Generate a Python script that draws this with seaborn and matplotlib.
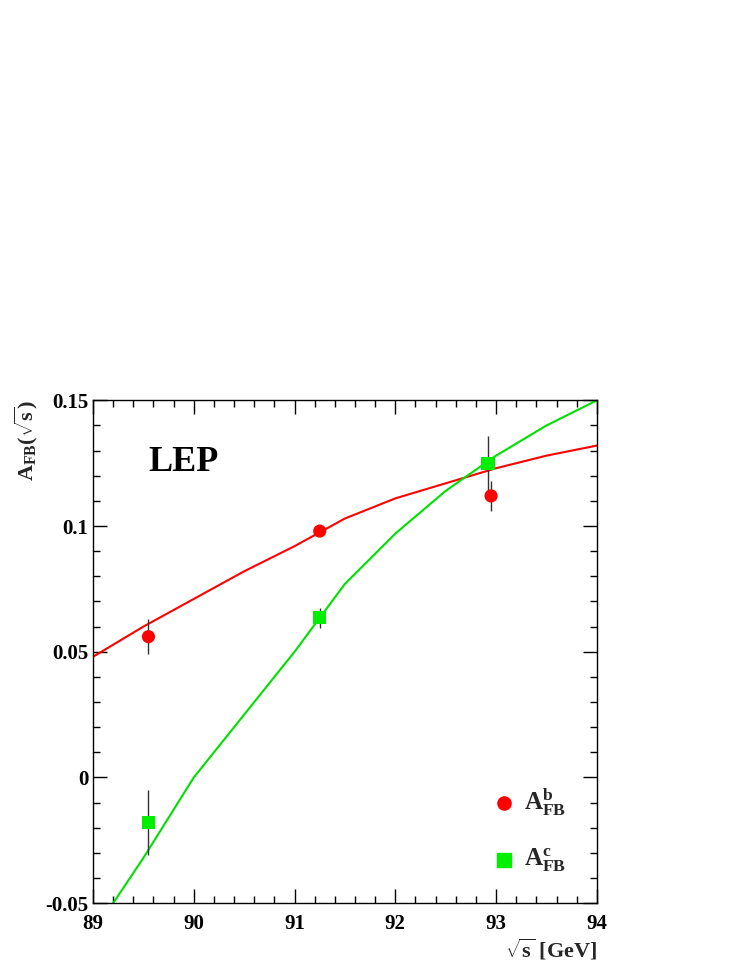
import matplotlib
matplotlib.use("Agg")
import matplotlib.pyplot as plt
import seaborn as sns
import numpy as np
from matplotlib.ticker import MultipleLocator, FixedFormatter, FixedLocator

sns.set_style("ticks")
plt.rcParams['font.family'] = ['Liberation Serif', 'DejaVu Serif']
plt.rcParams['font.weight'] = 'bold'
plt.rcParams['mathtext.fontset'] = 'custom'
plt.rcParams['mathtext.rm'] = 'Liberation Serif'
plt.rcParams['mathtext.it'] = 'Liberation Serif:italic'
plt.rcParams['mathtext.bf'] = 'Liberation Serif:bold'

curve_x = [89.0, 89.5, 90.0, 90.5, 91.0, 91.5, 92.0, 92.5, 93.0, 93.5, 94.0]
curve_b = [0.048, 0.060, 0.071, 0.082, 0.092, 0.103, 0.111, 0.117, 0.123, 0.128, 0.132]
curve_cx = [89.2, 89.5, 90.0, 90.5, 91.0, 91.5, 92.0, 92.5, 93.0, 93.5, 94.0]
curve_c = [-0.05, -0.032, 0.0, 0.025, 0.05, 0.077, 0.097, 0.114, 0.128, 0.140, 0.150]
b_x = [89.55, 91.25, 92.95]
b_y = [0.056, 0.098, 0.112]
b_err = [0.007, 0.002, 0.006]
c_x = [89.55, 91.25, 92.92]
c_y = [-0.018, 0.0635, 0.125]
c_err = [0.013, 0.004, 0.011]

fig = plt.figure(figsize=(7.47, 9.67), dpi=100)
ax = fig.add_axes([0.1245, 0.066, 0.6745, 0.52])
sns.lineplot(x=curve_x, y=curve_b, color='#ff0000', lw=1.5, ax=ax)
sns.lineplot(x=curve_cx, y=curve_c, color='#00e000', lw=1.5, ax=ax)
ax.errorbar(b_x, b_y, yerr=b_err, fmt='none', ecolor='#333333', lw=1)
ax.errorbar(c_x, c_y, yerr=c_err, fmt='none', ecolor='#333333', lw=1)
sns.scatterplot(x=b_x, y=b_y, color='#ff0000', marker='o', s=90, edgecolor='none', ax=ax, zorder=5)
sns.scatterplot(x=c_x, y=c_y, color='#00ee00', marker='s', s=90, edgecolor='none', ax=ax, zorder=5)

ax.set_xlim(89, 94)
ax.set_ylim(-0.05, 0.15)
ax.xaxis.set_major_locator(MultipleLocator(1))
ax.xaxis.set_minor_locator(MultipleLocator(0.2))
yt = [-0.05, 0, 0.05, 0.1, 0.15]
ax.yaxis.set_major_locator(FixedLocator(yt))
ax.yaxis.set_major_formatter(FixedFormatter(['-0.05', '0', '0.05', '0.1', '0.15']))
ax.yaxis.set_minor_locator(MultipleLocator(0.01))
ax.tick_params(which='both', direction='in', top=True, right=True, labelsize=15, width=1,
               colors='black')
ax.tick_params(which='major', length=10)
ax.tick_params(which='minor', length=5)
ax.tick_params(axis='x', pad=8)
for s in ax.spines.values():
    s.set_linewidth(1)
    s.set_color('black')
for lab in ax.get_xticklabels() + ax.get_yticklabels():
    lab.set_fontweight('bold')

ax.text(0.11, 0.86, 'LEP', transform=ax.transAxes, fontsize=26, fontweight='bold', color='black')
fig.text(0.799, 0.01, r'$\mathbf{\sqrt{s}}$ [GeV]', ha='right', fontsize=16, fontweight='bold')
fig.text(0.035, 0.586, r'$\mathbf{A_{FB}(\sqrt{s})}$', rotation=90, ha='center', va='top', fontsize=16)

ax.scatter([0.815], [0.2], transform=ax.transAxes, color='#ff0000', s=90, marker='o')
ax.text(0.855, 0.2, r'$\mathrm{A}^{\mathrm{b}}_{\mathrm{FB}}$', transform=ax.transAxes, fontsize=18, va='center')
ax.scatter([0.815], [0.085], transform=ax.transAxes, color='#00ee00', s=90, marker='s')
ax.text(0.855, 0.085, r'$\mathrm{A}^{\mathrm{c}}_{\mathrm{FB}}$', transform=ax.transAxes, fontsize=18, va='center')

fig.savefig('out.png', dpi=100)
